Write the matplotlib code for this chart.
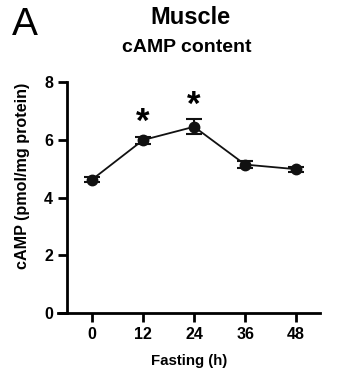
import matplotlib
matplotlib.use("Agg")
import matplotlib.pyplot as plt

hours = [0, 12, 24, 36, 48]
camp = [4.62, 5.99, 6.45, 5.14, 4.98]
sem = [0.08, 0.12, 0.26, 0.12, 0.08]
sig = [False, True, True, False, False]
yticks = [0, 2, 4, 6, 8]

plt.rcParams['font.family'] = ['Liberation Sans', 'DejaVu Sans']

fig = plt.figure(figsize=(3.42, 3.79), dpi=100)
ax = fig.add_axes([58/342, 1-313/379, (320-58)/342, (313-82)/379])

ax.errorbar(hours, camp, yerr=sem, fmt='o-', color='#111111', ms=7.5,
            lw=1.3, elinewidth=1.5, capsize=5.5, capthick=1.5)
for h, v, e, s in zip(hours, camp, sem, sig):
    if s:
        ax.text(h, v + e + 0.15, '*', ha='center', va='baseline',
                fontsize=25, fontweight='bold')

ax.set_xlim(-8, 53.6)
ax.set_ylim(0, 8)
ax.spines['top'].set_visible(False)
ax.spines['right'].set_visible(False)
ax.spines['left'].set_position(('data', -5.9))
for sp in ['left', 'bottom']:
    ax.spines[sp].set_linewidth(2)
ax.set_xticks(hours)
ax.set_yticks(yticks)
ax.tick_params(width=2, length=6.5, labelsize=11.5)
for lab in ax.get_xticklabels() + ax.get_yticklabels():
    lab.set_fontweight('bold')
ax.set_xlabel('Fasting (h)', fontsize=10.8, fontweight='bold', labelpad=9)
ax.set_ylabel('cAMP (pmol/mg protein)', fontsize=11.6, fontweight='bold')
ax.yaxis.set_label_coords(-0.105, 0.593)

fig.text(190/342, 1-18/379, 'Muscle', ha='center', va='center', fontsize=17, fontweight='bold')
fig.text(187/342, 1-47/379, 'cAMP content', ha='center', va='center', fontsize=14, fontweight='bold')
fig.text(25/342, 1-25/379, 'A', ha='center', va='center', fontsize=28)

fig.savefig('out.png', dpi=100)
